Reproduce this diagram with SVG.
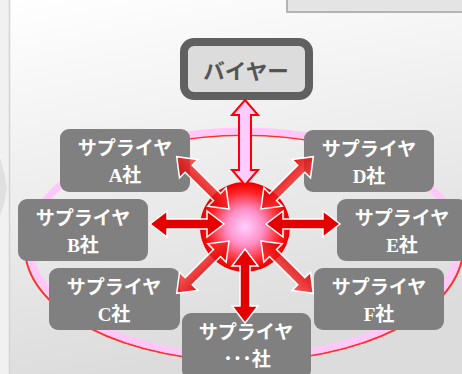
<svg xmlns="http://www.w3.org/2000/svg" xmlns:xlink="http://www.w3.org/1999/xlink" width="462" height="374" viewBox="0 0 462 374">
<style>
.box{fill:#808080}
.t1{font-family:"Noto Sans CJK JP","Noto Sans",sans-serif;font-weight:bold;font-size:19px;fill:#ffffff;text-anchor:middle}
.t2{font-family:"Liberation Serif","Noto Sans CJK JP",serif;font-weight:bold;font-size:19px;fill:#ffffff;text-anchor:middle}
.arr{stroke:#ffffff;stroke-width:1.5;stroke-linejoin:miter}
.solid{fill:#e40000}
.diag{fill:url(#dg)}
</style>
<defs>
<linearGradient id="bg" x1="0" y1="0" x2="0.25" y2="1">
<stop offset="0" stop-color="#ffffff"/>
<stop offset="1" stop-color="#dcdcdc"/>
</linearGradient>
<radialGradient id="sph" cx="0.5" cy="0.5" r="0.5">
<stop offset="0" stop-color="#ffd0ff"/>
<stop offset="0.4" stop-color="#ff90c8"/>
<stop offset="0.8" stop-color="#ff2020"/>
<stop offset="1" stop-color="#e80000"/>
</radialGradient>
<linearGradient id="dg" gradientUnits="userSpaceOnUse" x1="0" y1="-13" x2="0" y2="13">
<stop offset="0" stop-color="#d80000" stop-opacity="0.9"/>
<stop offset="1" stop-color="#ff3030" stop-opacity="0.75"/>
</linearGradient>
<polygon id="ar" points="0,0 17,-13 17,-5 57,-5 57,-13 74,0 57,13 57,5 17,5 17,13"/>
</defs>
<rect x="0" y="0" width="462" height="374" fill="url(#bg)"/>
<rect x="0" y="0" width="9" height="374" fill="#f1f1f1"/>
<polygon points="0,158 4,172 7,188 4,204 0,216" fill="#e0e0e0"/>
<line x1="9.5" y1="0" x2="9.5" y2="374" stroke="#d4d4d4" stroke-width="1.5"/>
<rect x="287" y="-4" width="180" height="16" fill="#e4e4e4" stroke="#b4b4b4" stroke-width="2"/>
<g id="ring">
<ellipse cx="244" cy="248" rx="219" ry="113" fill="none" stroke="#ff3030" stroke-width="2"/>
<ellipse cx="244" cy="244" rx="215" ry="113" fill="none" stroke="#ffc8f8" stroke-width="7"/>
</g>
<g id="buyer">
<rect x="184" y="42" width="125" height="54" rx="10" fill="#dcdcdc" stroke="#606060" stroke-width="8"/>
<text x="246" y="79" font-family="Noto Sans CJK JP, Noto Sans, sans-serif" font-weight="bold" font-size="21.5" fill="#555555" text-anchor="middle">バイヤー</text>
</g>
<g id="supplierA"><rect class="box" x="60" y="129" width="130" height="63" rx="9"/><text class="t1" x="125" y="155">サプライヤ</text><text class="t2" x="125" y="182">A社</text></g>
<g id="supplierB"><rect class="box" x="18" y="199" width="130" height="62" rx="9"/><text class="t1" x="83" y="225">サプライヤ</text><text class="t2" x="83" y="252">B社</text></g>
<g id="supplierC"><rect class="box" x="49" y="268" width="131" height="62" rx="9"/><text class="t1" x="114" y="294">サプライヤ</text><text class="t2" x="114" y="321">C社</text></g>
<g id="supplierD"><rect class="box" x="304" y="130" width="130" height="62" rx="9"/><text class="t1" x="369" y="156">サプライヤ</text><text class="t2" x="369" y="183">D社</text></g>
<g id="supplierE"><rect class="box" x="337" y="199" width="130" height="62" rx="9"/><text class="t1" x="402" y="225">サプライヤ</text><text class="t2" x="402" y="252">E社</text></g>
<g id="supplierF"><rect class="box" x="314" y="268" width="130" height="62" rx="9"/><text class="t1" x="379" y="294">サプライヤ</text><text class="t2" x="379" y="321">F社</text></g>
<g id="supplierEtc"><rect class="box" x="182" y="313" width="129" height="66" rx="9"/><text class="t1" x="246" y="339">サプライヤ</text><text class="t1" x="247" y="366">･･･社</text></g>
<g id="hub"><circle cx="245" cy="227" r="45" fill="url(#sph)"/></g>
<g id="connectors">
<use xlink:href="#ar" class="arr diag" transform="translate(229,209) rotate(-135)"/>
<use xlink:href="#ar" class="arr diag" transform="translate(261,209) rotate(-45)"/>
<use xlink:href="#ar" class="arr diag" transform="translate(229,241) rotate(135)"/>
<use xlink:href="#ar" class="arr diag" transform="translate(261,241) rotate(45)"/>
<use xlink:href="#ar" class="arr solid" transform="translate(224,224) rotate(180)"/>
<use xlink:href="#ar" class="arr solid" transform="translate(266,224)"/>
<use xlink:href="#ar" class="arr solid" transform="translate(245,249) rotate(90)"/>
<polygon points="245,100 258,115 251,115 251,170 258,170 245,185 232,170 239,170 239,115 232,115" fill="#ffccff" stroke="#ff0000" stroke-width="2"/>
</g>
</svg>
